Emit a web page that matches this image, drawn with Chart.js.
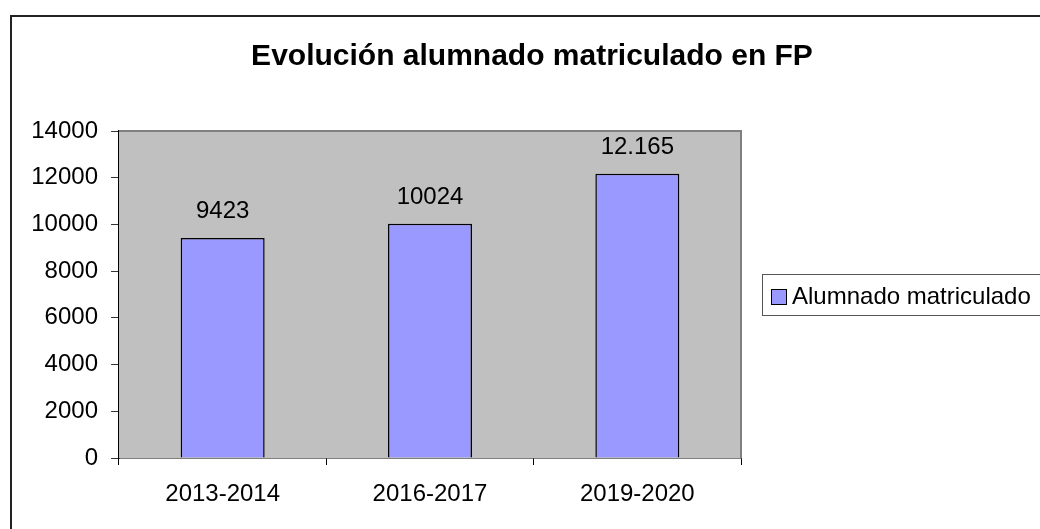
<!DOCTYPE html>
<html>
<head>
<meta charset="utf-8">
<script src="https://cdn.jsdelivr.net/npm/chart.js@4"></script>
<style>
  html, body { margin: 0; padding: 0; background: #fff; }
  #wrap { width: 1040px; height: 529px; }
</style>
</head>
<body>
<div id="wrap"><canvas id="bar"></canvas></div>
<script>
const cursos = ['2013-2014', '2016-2017', '2019-2020'];
const alumnado = [9423, 10024, 12165];
const etiquetas = ['9423', '10024', '12.165'];
const titulo = 'Evolución alumnado matriculado en FP';
const serie = 'Alumnado matriculado';

const fuente = '"Liberation Sans", Arial, sans-serif';

// fondo gris, marco exterior, etiquetas, titulo y leyenda
const decor = {
    id: 'decor',
    beforeDatasetsDraw(chart) {
        const { ctx, chartArea: a } = chart;
        ctx.save();
        ctx.fillStyle = '#C0C0C0';
        ctx.fillRect(a.left, a.top, a.right - a.left, a.bottom - a.top);
        ctx.strokeStyle = '#808080';
        ctx.lineWidth = 2;
        ctx.beginPath();
        ctx.moveTo(a.left, a.top);
        ctx.lineTo(a.right, a.top);
        ctx.lineTo(a.right, a.bottom);
        ctx.stroke();
        ctx.restore();
    },
    afterDatasetsDraw(chart) {
        const { ctx } = chart;
        const meta = chart.getDatasetMeta(0);
        ctx.save();
        ctx.fillStyle = '#000';
        ctx.font = '24px ' + fuente;
        ctx.textAlign = 'center';
        ctx.textBaseline = 'alphabetic';
        meta.data.forEach((bar, i) => {
            ctx.fillText(etiquetas[i], bar.x, bar.y - 20);
        });
        ctx.restore();
    },
    afterDraw(chart) {
        const { ctx } = chart;
        ctx.save();
        // marco
        ctx.strokeStyle = '#222';
        ctx.lineWidth = 2;
        ctx.strokeRect(11, 16, 1100, 600);
        // titulo
        ctx.fillStyle = '#000';
        ctx.font = 'bold 30px ' + fuente;
        ctx.textAlign = 'center';
        ctx.textBaseline = 'alphabetic';
        ctx.fillText(titulo, 532, 65);
        // leyenda
        ctx.strokeStyle = '#555';
        ctx.lineWidth = 1;
        ctx.strokeRect(762.5, 274.5, 400, 41);
        ctx.fillStyle = '#9999FF';
        ctx.fillRect(771, 289, 15, 15);
        ctx.strokeStyle = '#000';
        ctx.strokeRect(771.5, 289.5, 15, 15);
        ctx.fillStyle = '#000';
        ctx.font = '24px ' + fuente;
        ctx.textAlign = 'left';
        ctx.fillText(serie, 792, 304);
        ctx.restore();
    }
};

new Chart(document.getElementById('bar'), {
    type: 'bar',
    data: {
        labels: cursos,
        datasets: [{
            label: serie,
            data: alumnado,
            backgroundColor: '#9999FF',
            borderColor: '#000',
            borderWidth: 1.5,
            categoryPercentage: 1,
            barPercentage: 0.405
        }]
    },
    options: {
        responsive: true,
        maintainAspectRatio: false,
        animation: false,
        events: [],
        layout: { padding: { left: 10, top: 131, right: 299, bottom: 0 } },
        plugins: {
            legend: { display: false },
            title: { display: false },
            tooltip: { enabled: false }
        },
        scales: {
            x: {
                afterFit(s) { s.height = 71; },
                grid: { offset: true, drawOnChartArea: false, tickLength: 7, color: '#000' },
                border: { color: '#000', width: 1.5 },
                ticks: { color: '#000', padding: 15, font: { family: fuente, size: 24 } }
            },
            y: {
                min: 0,
                max: 14000,
                afterFit(s) { s.width = 109; },
                grid: { drawOnChartArea: false, tickLength: 8, color: '#333' },
                border: { color: '#000', width: 1.5 },
                ticks: {
                    stepSize: 2000,
                    color: '#000',
                    padding: 13,
                    font: { family: fuente, size: 24 },
                    callback: (v) => String(v)
                }
            }
        }
    },
    plugins: [decor]
});
</script>
</body>
</html>
